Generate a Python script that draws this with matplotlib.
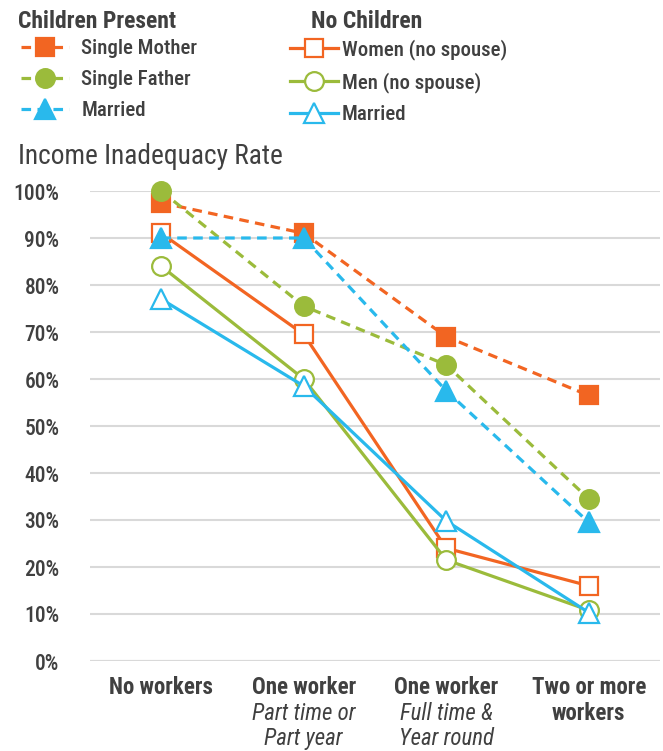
import matplotlib.pyplot as plt
from matplotlib.lines import Line2D
import matplotlib.transforms as mtransforms

plt.rcParams['font.family'] = ['Roboto Condensed', 'DejaVu Sans']

ORANGE = '#F26522'
GREEN = '#9BBB3B'
BLUE = '#29B9EC'
TEXT = '#404040'

categories = ['No workers', 'One worker', 'One worker', 'Two or more']
subtitles = ['', 'Part time or\nPart year', 'Full time &\nYear round', '']
bold_second = ['', '', '', 'workers']

single_mother = [97.5, 91.0, 69.0, 56.5]
single_father = [100.0, 75.5, 63.0, 34.5]
married_kids = [90.0, 90.0, 57.5, 29.5]
women_nospouse = [91.0, 69.5, 24.0, 16.0]
men_nospouse = [84.0, 60.0, 21.5, 10.8]
married_nokids = [77.0, 58.5, 29.8, 10.3]

fig = plt.figure(figsize=(6.63, 7.51), dpi=100)
ax = fig.add_axes([90 / 663, 1 - 661 / 751, 570 / 663, 470 / 751])

x = range(len(categories))
lw = 2.3
ms = 13.5

series = [
    # no children, solid, hollow
    (women_nospouse, ORANGE, '-', 's', 'white'),
    (men_nospouse, GREEN, '-', 'o', 'white'),
    (married_nokids, BLUE, '-', '^', 'white'),
    # children present, dashed, filled
    (single_mother, ORANGE, '--', 's', ORANGE),
    (single_father, GREEN, '--', 'o', GREEN),
    (married_kids, BLUE, '--', '^', BLUE),
]
for vals, col, ls, mk, fc in series:
    mss = ms + 1 if mk == '^' else ms
    ax.plot(x, vals, color=col, ls=ls, lw=lw, marker=mk, ms=mss,
            mfc=fc, mec=col, mew=1.6, dashes=(3, 2) if ls == '--' else (None, None),
            clip_on=False, zorder=3)

ax.set_xlim(-0.5, 3.5)
ax.set_ylim(0, 100)
ax.set_yticks(range(0, 101, 10))
ax.set_yticklabels([f'{v}%' for v in range(0, 101, 10)], fontsize=15.5,
                   color=TEXT, fontweight='medium')
ax.yaxis.grid(True, color='#d9d9d9', lw=1.5)
ax.set_axisbelow(True)
for s in ax.spines.values():
    s.set_visible(False)
ax.tick_params(axis='y', length=0, pad=22)
ax.tick_params(axis='x', length=0)
ax.set_xticks([])
ax.axhline(0, color='#d9d9d9', lw=1.5, zorder=1)

trans = mtransforms.blended_transform_factory(ax.transData, ax.transAxes)
for i, cat in enumerate(categories):
    ax.text(i, -0.031, cat, transform=trans, ha='center', va='top',
            fontsize=16.5, fontweight='bold', color=TEXT)
    if subtitles[i]:
        ax.text(i, -0.088, subtitles[i], transform=trans, ha='center', va='top',
                fontsize=16.5, style='italic', color=TEXT, linespacing=1.1)
    if bold_second[i]:
        ax.text(i, -0.088, bold_second[i], transform=trans, ha='center', va='top',
                fontsize=16.5, fontweight='bold', color=TEXT)

fig.text(18 / 663, 1 - 156 / 751, 'Income Inadequacy Rate', fontsize=19.7,
         color=TEXT, va='center', ha='left')

fig.text(18 / 663, 1 - 22 / 751, 'Children Present', fontsize=17,
         fontweight='bold', color=TEXT, va='center', ha='left')
fig.text(311 / 663, 1 - 22 / 751, 'No Children', fontsize=17,
         fontweight='bold', color=TEXT, va='center', ha='left')


def legend_handle(col, ls, mk, fc):
    return Line2D([], [], color=col, ls=ls, lw=lw, marker=mk,
                  ms=ms if mk != '^' else ms + 1, mfc=fc, mec=col, mew=1.6,
                  dashes=(3, 2) if ls == '--' else (None, None))


kid_handles = [legend_handle(ORANGE, '--', 's', ORANGE),
               legend_handle(GREEN, '--', 'o', GREEN),
               legend_handle(BLUE, '--', '^', BLUE)]
kid_labels = ['Single Mother', 'Single Father', 'Married']
nokid_handles = [legend_handle(ORANGE, '-', 's', 'white'),
                 legend_handle(GREEN, '-', 'o', 'white'),
                 legend_handle(BLUE, '-', '^', 'white')]
nokid_labels = ['Women (no spouse)', 'Men (no spouse)', 'Married']

common = dict(frameon=False, handlelength=2.3, handletextpad=0.6,
              labelspacing=0.58, borderpad=0, borderaxespad=0, labelcolor=TEXT,
              prop={'family': 'Roboto Condensed', 'weight': 'medium', 'size': 15})
leg1 = fig.legend(kid_handles, kid_labels, loc='upper left',
                  bbox_to_anchor=(21 / 663, 1 - 39 / 751), **common)
common['handletextpad'] = 0.2
leg2 = fig.legend(nokid_handles, nokid_labels, loc='upper left',
                  bbox_to_anchor=(290 / 663, 1 - 39 / 751), **common)

fig.savefig('out.png', dpi=100)
